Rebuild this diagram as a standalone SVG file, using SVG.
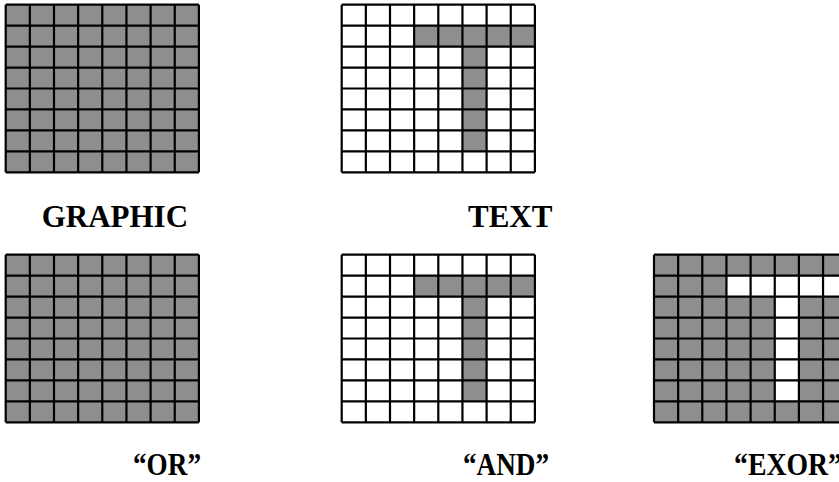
<svg xmlns="http://www.w3.org/2000/svg" xmlns:xlink="http://www.w3.org/1999/xlink" width="839" height="482" viewBox="0 0 839 482">
<style>
.g{fill:#8e8e8e}
.w{fill:#ffffff}
.ln{fill:none;stroke:#000;stroke-width:2.2}
.lbl{font-family:"Liberation Serif","Times New Roman",serif;font-weight:bold;font-size:31px;fill:#000}
</style>
<defs>
<path id="lines" class="ln" d="M0,0V167.6M24.15,0V167.6M48.3,0V167.6M72.45,0V167.6M96.6,0V167.6M120.75,0V167.6M144.9,0V167.6M169.05,0V167.6M193.2,0V167.6M0,0H193.2M0,20.95H193.2M0,41.9H193.2M0,62.85H193.2M0,83.8H193.2M0,104.75H193.2M0,125.7H193.2M0,146.65H193.2M0,167.6H193.2"/>
<path id="tshape" d="M72.45,20.95H193.2V41.9H144.9V146.65H120.75V41.9H72.45Z"/>
</defs>
<rect width="839" height="482" fill="#fff"/>
<g id="graphic" transform="translate(5.7,4.7)">
<rect class="g" width="193.2" height="167.6"/>
<use xlink:href="#lines"/>
</g>
<g id="text" transform="translate(341.7,4.7)">
<rect class="w" width="193.2" height="167.6"/>
<use xlink:href="#tshape" class="g"/>
<use xlink:href="#lines"/>
</g>
<g id="or" transform="translate(5.7,254.7)">
<rect class="g" width="193.2" height="167.6"/>
<use xlink:href="#lines"/>
</g>
<g id="and" transform="translate(341.7,254.7)">
<rect class="w" width="193.2" height="167.6"/>
<use xlink:href="#tshape" class="g"/>
<use xlink:href="#lines"/>
</g>
<g id="exor" transform="translate(654,254.7)">
<rect class="g" width="193.2" height="167.6"/>
<use xlink:href="#tshape" class="w"/>
<use xlink:href="#lines"/>
</g>
<g id="labels">
<text class="lbl" x="41.7" y="227.3">GRAPHIC</text>
<text class="lbl" x="468" y="227.3">TEXT</text>
<text class="lbl" x="133" y="475" textLength="68" lengthAdjust="spacingAndGlyphs">“OR”</text>
<text class="lbl" x="463" y="475" textLength="86" lengthAdjust="spacingAndGlyphs">“AND”</text>
<text class="lbl" x="734" y="475" textLength="108" lengthAdjust="spacingAndGlyphs">“EXOR”</text>
</g>
</svg>
